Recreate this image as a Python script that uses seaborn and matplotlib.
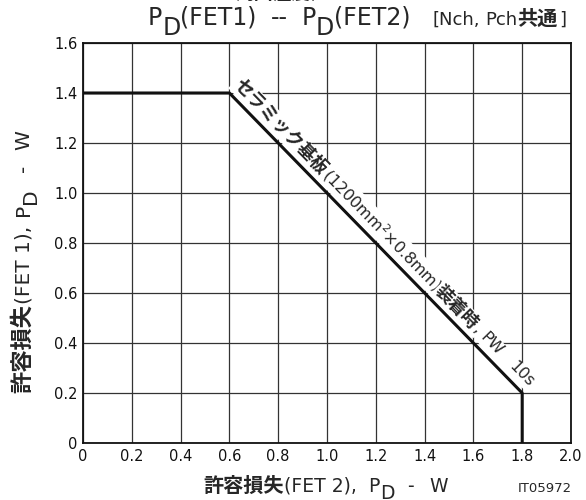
import numpy as np
import matplotlib
matplotlib.use("Agg")
import matplotlib.pyplot as plt
import matplotlib.transforms as mtransforms
import seaborn as sns

# ── Data ─────────────────────────────────────────────
pd_fet2 = [0.0, 0.6, 1.8, 1.8]   # W
pd_fet1 = [1.4, 1.4, 0.2, 0.0]   # W

x_ticks = [0, 0.2, 0.4, 0.6, 0.8, 1.0, 1.2, 1.4, 1.6, 1.8, 2.0]
x_tick_labels = ["0", "0.2", "0.4", "0.6", "0.8", "1.0", "1.2", "1.4", "1.6", "1.8", "2.0"]
y_ticks = [0, 0.2, 0.4, 0.6, 0.8, 1.0, 1.2, 1.4, 1.6]
y_tick_labels = ["0", "0.2", "0.4", "0.6", "0.8", "1.0", "1.2", "1.4", "1.6"]

sns.set_style("white")
plt.rcParams["font.family"] = ["DejaVu Sans", "Noto Sans CJK JP"]

fig = plt.figure(figsize=(5.86, 5.0), dpi=100)
ax = fig.add_axes([0.1416, 0.114, 0.8328, 0.8])

sns.lineplot(x=pd_fet2, y=pd_fet1, sort=False, estimator=None,
             color="#111111", linewidth=2.2, ax=ax, zorder=3)

ax.set_xlim(0, 2.0)
ax.set_ylim(0, 1.6)
ax.set_xticks(x_ticks)
ax.set_xticklabels(x_tick_labels, fontsize=10.5)
ax.set_yticks(y_ticks)
ax.set_yticklabels(y_tick_labels, fontsize=10.5)
ax.tick_params(length=0, pad=4, colors="#111111")
ax.grid(True, color="#333333", linewidth=0.9)
ax.set_xlabel("")
ax.set_ylabel("")
for sp in ax.spines.values():
    sp.set_color("#111111")
    sp.set_linewidth(1.3)

renderer = fig.canvas.get_renderer()
PIX = mtransforms.IdentityTransform()


def chain(pieces, x, y, angle=0.0, box=False):
    """Write text pieces one after another from (x, y) baseline, in pixels."""
    a = np.radians(angle)
    ux, uy = np.cos(a), np.sin(a)
    nx, ny = -np.sin(a), np.cos(a)
    pos = 0.0
    for txt, size, bold, dy, gap in pieces:
        pos += gap
        t = fig.text(x + ux * pos + nx * dy, y + uy * pos + ny * dy, txt,
                     transform=PIX, fontsize=size,
                     fontweight="bold" if bold else "normal",
                     ha="left", va="baseline", rotation_mode="anchor")
        if box:
            t.set_bbox(dict(facecolor="white", edgecolor="none", pad=1.0))
        w = t.get_window_extent(renderer).width
        t.set_rotation(angle)
        pos += w
    return pos


# text along the slope
p1 = ax.transData.transform((pd_fet2[1], pd_fet1[1]))
p2 = ax.transData.transform((pd_fet2[2], pd_fet1[2]))
ang = np.degrees(np.arctan2(p2[1] - p1[1], p2[0] - p1[0]))
a = np.radians(ang)
nrm = np.array([-np.sin(a), np.cos(a)]) * 8
dirv = np.array([np.cos(a), np.sin(a)])
s0 = p1 + dirv * -3 + nrm
chain([("セラミック基板", 13, True, 0, 0),
       ("(1200mm$^2$×0.8mm)", 11.5, False, 0, 0),
       ("装着時", 13, True, 0, 0),
       (",", 11.5, False, 0, 0),
       ("PW", 11.5, False, 0, 5)], s0[0], s0[1], ang, box=True)
s1 = p1 + dirv * 391 + nrm
chain([("10s", 11.5, False, 0, 0)], s1[0], s1[1], ang, box=True)

# cut-off header line
chain([("周囲温度", 13.5, True, 0, 0), (",", 12, False, 0, 0),
       ("Ta = 25°C", 12, False, 0, 10)], 236, 501)

# title
chain([("P", 17, False, 0, 0), ("D", 17, False, -10, 0), ("(FET1)", 17, False, 0, 0),
       ("--", 17, False, 0, 14), ("P", 17, False, 0, 14), ("D", 17, False, -10, 0),
       ("(FET2)", 17, False, 0, 0)], 148, 475)
chain([("[Nch,", 13, False, 0, 0), ("Pch", 13, False, 0, 5), ("共通", 14.5, True, 0, 0),
       ("]", 13, False, 0, 1)], 433, 475)

# x label
chain([("許容損失", 14.5, True, 0, 0), ("(FET 2),", 13.5, False, 0, 0),
       ("P", 13.5, False, 0, 12), ("D", 13.5, False, -7, 0), ("-", 13.5, False, 0, 13),
       ("W", 13.5, False, 0, 15)], 203, 8)
fig.text(572, 8, "IT05972", transform=PIX, ha="right", va="baseline", fontsize=9.5)

# y label
chain([("許容損失", 16, True, 0, 0), ("(FET 1),", 14.5, False, 0, 0),
       ("P", 14.5, False, 0, 10), ("D", 14.5, False, -7, 0), ("-", 14.5, False, 0, 16),
       ("W", 14.5, False, 0, 15)], 29, 107, 90)

plt.savefig("out.png", dpi=100)
plt.close(fig)
